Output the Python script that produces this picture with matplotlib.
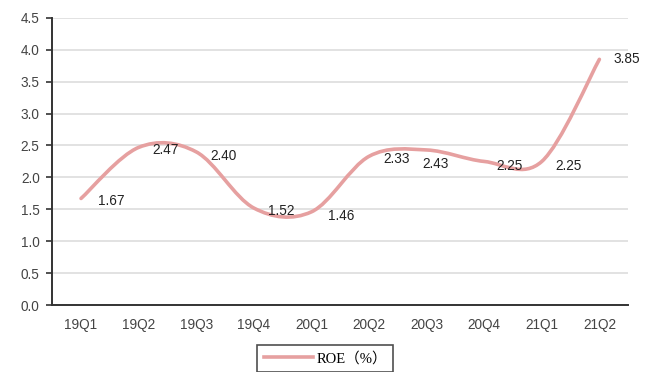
import numpy as np
import matplotlib.pyplot as plt
from matplotlib.path import Path
from matplotlib.patches import PathPatch
from matplotlib.lines import Line2D

quarters = ['19Q1', '19Q2', '19Q3', '19Q4', '20Q1', '20Q2', '20Q3', '20Q4', '21Q1', '21Q2']
roe = [1.67, 2.47, 2.40, 1.52, 1.46, 2.33, 2.43, 2.25, 2.25, 3.85]
# per-label nudge in points (dx, dy)
label_offsets = [(12, -2), (10, -2), (10, -3), (10, -2), (12, -3),
                 (10, -2), (-3, -10), (9, -3), (10, -3), (10, 0)]

line_color = '#E6A0A0'
num_font = ['Liberation Sans Narrow', 'Liberation Sans', 'DejaVu Sans']

fig = plt.figure(figsize=(6.53, 3.72), dpi=100)
ax = fig.add_axes([0.08, 0.18, 0.882, 0.772])

x = np.arange(len(roe), dtype=float)
y = np.array(roe)

# smooth line through the points (Catmull-Rom as cubic Bezier segments)
pts = np.column_stack([x, y])
ext = np.vstack([pts[0], pts, pts[-1]])
verts = [tuple(pts[0])]
codes = [Path.MOVETO]
for i in range(len(pts) - 1):
    p0, p1, p2, p3 = ext[i], ext[i + 1], ext[i + 2], ext[i + 3]
    c1 = p1 + (p2 - p0) / 6.0
    c2 = p2 - (p3 - p1) / 6.0
    verts += [tuple(c1), tuple(c2), tuple(p2)]
    codes += [Path.CURVE4] * 3
ax.add_patch(PathPatch(Path(verts, codes), fill=False, edgecolor=line_color,
                       lw=2.6, capstyle='round', joinstyle='round', zorder=3))

for xi, yi, (dx, dy) in zip(x, roe, label_offsets):
    ax.annotate(f'{yi:.2f}', (xi, yi), xytext=(dx, dy), textcoords='offset points',
                ha='left', va='center', fontsize=9.8, color='#222222', family=num_font)

ax.set_xlim(-0.5, len(roe) - 0.5)
ax.set_ylim(0, 4.5)
ax.set_yticks(np.arange(0, 4.51, 0.5))
ax.set_yticklabels([f'{v:.1f}' for v in np.arange(0, 4.51, 0.5)])
ax.set_xticks(x)
ax.set_xticklabels(quarters)
for lab in ax.get_xticklabels() + ax.get_yticklabels():
    lab.set_family(num_font)
    lab.set_fontsize(9.8)
    lab.set_color('#444444')

ax.grid(axis='y', color='#DDDDDD', lw=1.2)
ax.set_axisbelow(True)
for side in ['top', 'right']:
    ax.spines[side].set_visible(False)
for side in ['left', 'bottom']:
    ax.spines[side].set_color('#333333')
    ax.spines[side].set_linewidth(1.4)
ax.tick_params(axis='y', length=4, width=1.2, color='#333333', pad=5)
ax.tick_params(axis='x', length=0, pad=9)

handle = Line2D([], [], color=line_color, lw=2.6)
leg = fig.legend([handle], ['ROE（%）'], loc='lower center', bbox_to_anchor=(0.498, -0.012),
                 frameon=True, fancybox=False, edgecolor='#222222', handlelength=3.4,
                 handletextpad=0.2, borderpad=0.45, borderaxespad=0.3,
                 prop={'family': ['Liberation Serif', 'Noto Sans CJK SC'], 'size': 10.5})
leg.get_frame().set_linewidth(1.2)

fig.savefig('out.png', dpi=100)
